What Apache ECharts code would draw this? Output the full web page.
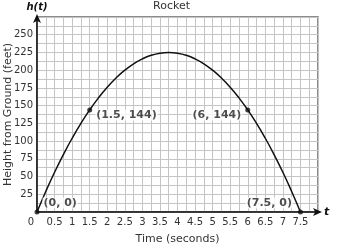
<!DOCTYPE html>
<html><head><meta charset="utf-8">
<script src="https://cdn.jsdelivr.net/npm/echarts@6/dist/echarts.min.js"></script>
<style>html,body{margin:0;padding:0;background:#fff}#c{width:343px;height:247px}</style>
</head><body><div id="c"></div>
<script>
var times = [0,0.25,0.5,0.75,1,1.25,1.5,1.75,2,2.25,2.5,2.75,3,3.25,3.5,3.75,4,4.25,4.5,4.75,5,5.25,5.5,5.75,6,6.25,6.5,6.75,7,7.25,7.5];
var heights = [0,29,56,81,104,125,144,161,176,189,200,209,216,221,224,225,224,221,216,209,200,189,176,161,144,125,104,81,56,29,0];
var pointT = [0,1.5,6,7.5];
var pointH = [0,144,144,0];
var pointLabels = ['(0, 0)','(1.5, 144)','(6, 144)','(7.5, 0)'];
var FONT = 'DejaVu Sans';
var chart = echarts.init(document.getElementById('c'), null, {renderer:'canvas'});
var curve = times.map(function(t,i){return [t, heights[i]];});
var labelPos = [
  {position:'right', distance:3, offset:[0,-9]},
  {position:'right', distance:3, offset:[0,5]},
  {position:'left', distance:3, offset:[0,5]},
  {position:'left', distance:5, offset:[0,-9]}
];
var pts = pointT.map(function(t,i){
  var lp = labelPos[i];
  return {value:[t, pointH[i]], label:{show:true, formatter:pointLabels[i], position:lp.position, distance:lp.distance, offset:lp.offset}};
});
chart.setOption({
  animation:false,
  title:{text:'Rocket', left:'center', top:-4, textStyle:{fontFamily:FONT, fontSize:11, fontWeight:'normal', color:'#333'}},
  grid:{left:37, right:25, top:17, bottom:35, containLabel:false, outerBoundsMode:'none', show:true, borderColor:'#666', borderWidth:1.5, backgroundColor:'transparent'},
  xAxis:[{
    type:'value', min:0, max:8, interval:0.25,
    axisLine:{show:true, onZero:false, lineStyle:{color:'#111', width:1.5}, symbol:['none','arrow'], symbolSize:[6,9], symbolOffset:[0,4]},
    axisTick:{show:false},
    splitLine:{show:true, lineStyle:{color:'#c4c4c4', width:1}},
    axisLabel:{fontFamily:FONT, fontSize:10, color:'#333', margin:5, showMaxLabel:true, showMinLabel:true,
      formatter:function(v){ if (v===0) return '{z|0}'; if (Math.abs(v*2-Math.round(v*2))<1e-6 && v<8) return String(v); return ''; },
      rich:{z:{fontFamily:FONT, fontSize:10, color:'#333', padding:[0,12,0,0]}}},
    name:'t', nameLocation:'end', nameGap:6,
    nameTextStyle:{fontFamily:FONT, fontSize:11, fontWeight:'bold', fontStyle:'italic', color:'#111', verticalAlign:'middle'}
  },{
    type:'value', min:0, max:8, position:'bottom',
    axisLine:{show:false}, axisTick:{show:false}, axisLabel:{show:false}, splitLine:{show:false},
    name:'Time (seconds)', nameLocation:'middle', nameGap:22,
    nameTextStyle:{fontFamily:FONT, fontSize:11, color:'#333'}
  }],
  yAxis:[{
    type:'value', min:0, max:275, interval:12.5,
    axisLine:{show:true, onZero:false, lineStyle:{color:'#111', width:1.5}, symbol:['none','arrow'], symbolSize:[6,9], symbolOffset:[0,3]},
    axisTick:{show:false},
    splitLine:{show:true, lineStyle:{color:'#c4c4c4', width:1}},
    axisLabel:{fontFamily:FONT, fontSize:10, color:'#333', margin:4,
      formatter:function(v){ if (v>0 && v<275 && Math.abs(v/25-Math.round(v/25))<1e-6) return String(v); return ''; }},
    name:'h(t)', nameLocation:'end', nameGap:5,
    nameTextStyle:{fontFamily:FONT, fontSize:10, fontWeight:'bold', fontStyle:'italic', color:'#111', align:'center'}
  },{
    type:'value', min:0, max:275, position:'left',
    axisLine:{show:false}, axisTick:{show:false}, axisLabel:{show:false}, splitLine:{show:false},
    name:'Height from Ground (feet)', nameLocation:'middle', nameGap:23,
    nameTextStyle:{fontFamily:FONT, fontSize:11, color:'#333'}
  }],
  series:[{
    type:'line', data:curve, smooth:true, symbol:'none',
    lineStyle:{color:'#111', width:1.5}, z:3
  },{
    type:'scatter', data:pts, symbolSize:5, itemStyle:{color:'#111'}, z:4,
    label:{fontFamily:FONT, fontSize:11, fontWeight:'bold', color:'#222', backgroundColor:'#fff', padding:[0,1]}
  }]
});
</script></body></html>
